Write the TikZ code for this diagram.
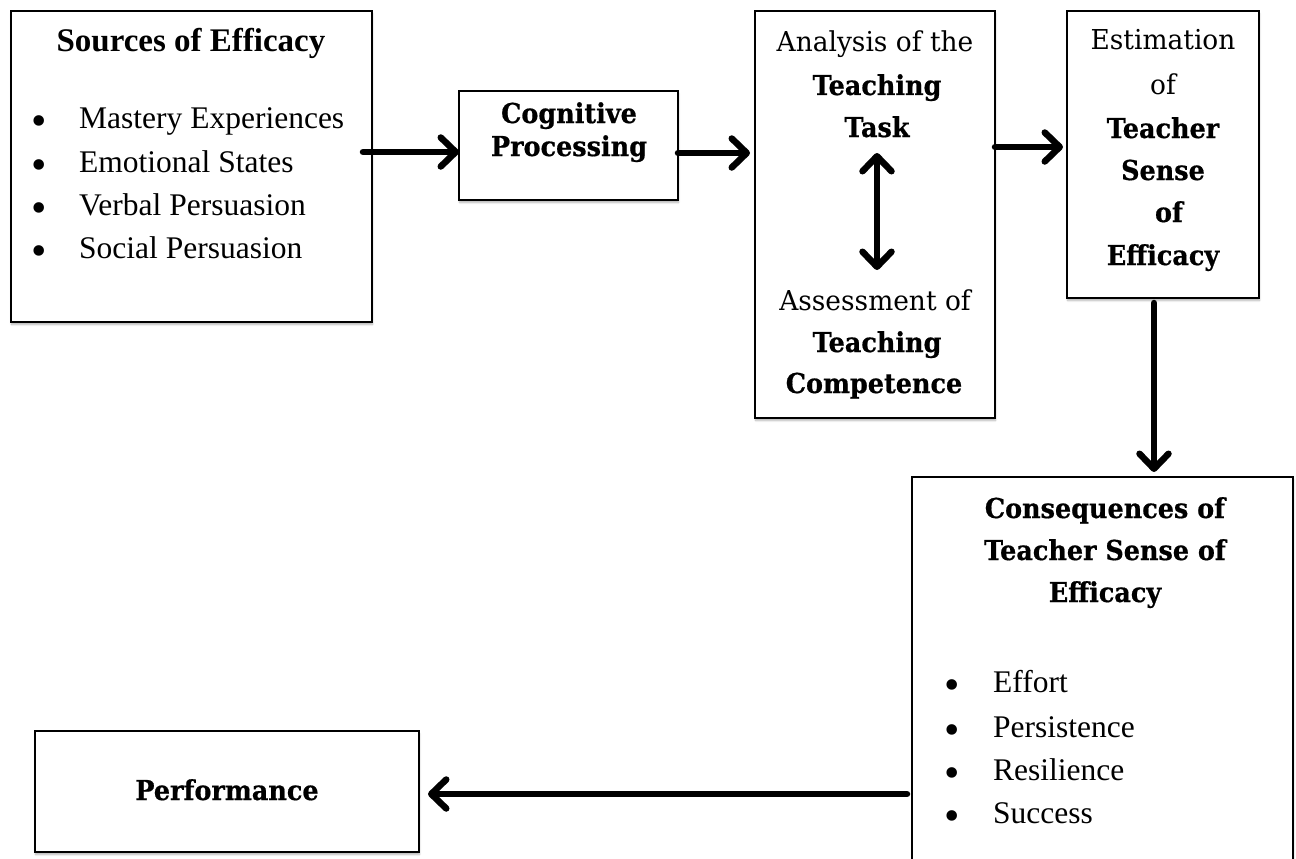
\documentclass[tikz,border=0pt]{standalone}
\usepackage{fontspec}
\setmainfont{Liberation Serif}
\newfontfamily\headfont[FakeStretch=0.965, BoldFeatures={FakeStretch=0.93, FakeBold=0.6}]{DejaVu Serif}
\usetikzlibrary{arrows.meta,shadows.blur}

\begin{document}
\begin{tikzpicture}[x=1pt,y=-1pt,
  box/.style={draw=black, line width=1.8pt, fill=white, inner sep=0pt, outer sep=0pt,
    anchor=north west,
    blur shadow={shadow xshift=0.5pt, shadow yshift=-2.5pt, shadow blur steps=6, shadow opacity=30}},
  txt/.style={inner sep=0pt, anchor=base},
  tnrb/.style={txt, font=\fontsize{33}{39}\selectfont\bfseries},
  item/.style={txt, anchor=base west, font=\fontsize{31.5}{37}\selectfont},
  dot/.style={txt, font=\fontsize{44}{50}\selectfont, yshift=-7.5pt},
  cam/.style={txt, font=\headfont\fontsize{27.4}{32}\selectfont},
  camb/.style={txt, font=\headfont\bfseries\fontsize{27.4}{32}\selectfont},
  soft/.style={preaction={draw=black, opacity=0.12, transform canvas={shift={(0.8pt,-2.5pt)}}}},
  flow/.style={line width=6.5pt, line cap=round,
    -{Straight Barb[length=15pt, width=29pt, line cap=round, line join=round]}, soft},
  flowboth/.style={line width=6.5pt, line cap=round,
    {Straight Barb[length=15pt, width=29pt, line cap=round, line join=round]}-{Straight Barb[length=15pt, width=29pt, line cap=round, line join=round]}, soft},
]
\useasboundingbox (0,0) rectangle (1296,859);
\clip (0,0) rectangle (1296,859);

% boxes
\node[box, minimum width=361pt, minimum height=311pt] (src) at (11,11) {};
\node[box, minimum width=219pt, minimum height=109pt] (cog) at (459,91) {};
\node[box, minimum width=240pt, minimum height=407pt] (ana) at (755,11) {};
\node[box, minimum width=192pt, minimum height=287pt] (est) at (1067,11) {};
\node[box, minimum width=381pt, minimum height=440pt] (cons) at (912,477) {};
\node[box, minimum width=384pt, minimum height=121pt] (perf) at (35,731) {};

% sources of efficacy
\node[tnrb] (srcT) at (191,52) {Sources of Efficacy};
\node[dot] (sd1) at (39,128) {\textbullet};
\node[item] (s1) at (79,128) {Mastery Experiences};
\node[dot] (sd2) at (39,172) {\textbullet};
\node[item] (s2) at (79,172) {Emotional States};
\node[dot] (sd3) at (39,215) {\textbullet};
\node[item] (s3) at (79,215) {Verbal Persuasion};
\node[dot] (sd4) at (39,258) {\textbullet};
\node[item] (s4) at (79,258) {Social Persuasion};

% cognitive processing
\node[camb] (cog1) at (569,123) {Cognitive};
\node[camb] (cog2) at (569,156) {Processing};

% analysis / assessment
\node[cam]  (an1) at (875,52) {Analysis of the};
\node[camb] (an2) at (877,95) {Teaching};
\node[camb] (an3) at (877,137) {Task};
\node[cam]  (as1) at (875,310) {Assessment of};
\node[camb] (as2) at (877,352) {Teaching};
\node[camb] (as3) at (874,393) {Competence};

% estimation
\node[cam]  (es1) at (1163,50) {Estimation};
\node[cam]  (es2) at (1163,95) {of};
\node[camb] (es3) at (1163,138) {Teacher};
\node[camb] (es4) at (1163,180) {Sense};
\node[camb] (es5) at (1169,222) {of};
\node[camb] (es6) at (1163,265) {Efficacy};

% consequences
\node[camb] (co1) at (1105,518) {Consequences of};
\node[camb] (co2) at (1105,560) {Teacher Sense of};
\node[camb] (co3) at (1105,602) {Efficacy};
\node[dot] (cd1) at (952,692) {\textbullet};
\node[item] (c1) at (993,692) {Effort};
\node[dot] (cd2) at (952,737) {\textbullet};
\node[item] (c2) at (993,737) {Persistence};
\node[dot] (cd3) at (952,780) {\textbullet};
\node[item] (c3) at (993,780) {Resilience};
\node[dot] (cd4) at (952,823) {\textbullet};
\node[item] (c4) at (993,823) {Success};

% performance
\node[camb] (pf) at (227,800) {Performance};

% connectors
\draw[flow] ([xshift=-9pt,yshift=14.5pt]src.east) coordinate (a1) -- (a1 -| cog.west);
\draw[flow] ([yshift=-7.5pt]cog.east) coordinate (a2) -- ([xshift=-5pt]a2 -| ana.west);
\draw[flow] ([yshift=67.5pt]ana.east) coordinate (a3) -- ([xshift=-4pt]a3 -| est.west);
\coordinate (dtop) at (877,153);
\coordinate (dbot) at (877,270);
\draw[flowboth] (dtop) -- (dbot);
\draw[flow] ([xshift=-9pt,yshift=-5pt]est.south) coordinate (a5) -- ([yshift=5pt]a5 |- cons.north);
\coordinate (a6) at (cons.west |- perf.east);
\draw[flow] ([xshift=-5pt,yshift=-2.5pt]a6) -- ([xshift=9pt,yshift=-2.5pt]perf.east);
\end{tikzpicture}
\end{document}
